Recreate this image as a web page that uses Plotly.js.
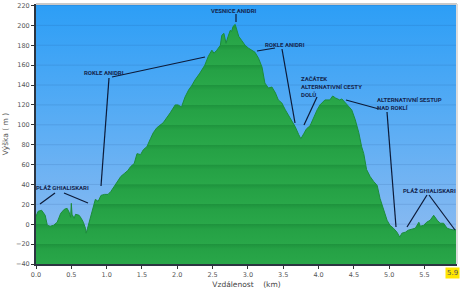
<!DOCTYPE html>
<html><head><meta charset="utf-8">
<script src="https://cdn.plot.ly/plotly-3.0.1.min.js"></script>
<style>html,body{margin:0;padding:0;background:#fff}#chart{width:460px;height:289px}</style>
</head><body><div id="chart"></div>
<script>
const distanceKm = [0.00,0.03,0.08,0.13,0.16,0.20,0.25,0.30,0.35,0.40,0.44,0.47,0.49,0.50,0.51,0.54,0.56,0.61,0.64,0.67,0.70,0.71,0.73,0.77,0.82,0.84,0.88,0.92,0.97,1.02,1.06,1.11,1.15,1.20,1.25,1.30,1.34,1.39,1.43,1.48,1.52,1.57,1.62,1.66,1.71,1.80,1.90,1.97,2.01,2.06,2.11,2.16,2.21,2.25,2.32,2.39,2.44,2.49,2.52,2.56,2.61,2.63,2.66,2.69,2.72,2.75,2.77,2.79,2.82,2.84,2.87,2.91,2.96,3.01,3.05,3.10,3.15,3.20,3.24,3.29,3.34,3.39,3.43,3.48,3.53,3.57,3.62,3.67,3.72,3.75,3.79,3.83,3.88,3.93,3.98,4.02,4.09,4.16,4.20,4.24,4.30,4.33,4.38,4.42,4.47,4.52,4.57,4.61,4.64,4.68,4.73,4.78,4.83,4.87,4.92,4.97,5.01,5.06,5.11,5.15,5.18,5.23,5.27,5.32,5.37,5.42,5.44,5.49,5.53,5.58,5.63,5.68,5.72,5.77,5.82,5.86,5.93,5.96];
const elevationM = [8,13,14,9,-1,-2,-1,2,11,15,16,12,7,21,10,6,10,9,6,2,-4,-9,-4,7,19,25,23,29,30,30,33,38,43,48,51,54,58,61,71,70,75,78,86,92,97,102,112,120,120,118,128,135,140,145,152,160,169,175,172,175,180,190,192,182,189,195,194,199,201,195,189,185,180,177,175,173,167,158,142,137,138,132,125,122,115,110,105,98,90,86,91,96,99,108,115,120,125,125,129,127,125,126,122,118,115,105,92,78,71,55,48,43,39,26,14,4,-1,-4,-8,-13,-9,-8,-6,-5,-4,2,-2,-1,2,4,9,4,1,1,-4,-5,-6,-5];

const yTickVals = [-40,-20,0,20,40,60,80,100,120,140,160,180,200,220];
const xTickVals = [0,0.5,1,1.5,2,2.5,3,3.5,4,4.5,5,5.5];
const xTickText = ['0.0','0.5','1.0','1.5','2.0','2.5','3.0','3.5','4.0','4.5','5.0','5.5'];
const totalLabel = '5.9';
const totalKm = 5.9;

const labelTexts = ['VESNICE ANIDRI','ROKLE ANIDRI','ROKLE ANIDRI','ZAČÁTEK<br>ALTERNATIVNÍ CESTY<br>DOLŮ','ALTERNATIVNÍ SESTUP<br>NAD ROKLÍ','PLÁŽ GHIALISKARI','PLÁŽ GHIALISKARI'];

// ---- layout geometry ----
const W=460,H=289,ML=36,MR=3,MT=4,MB=25;
const xMin=0,xMax=5.96,yMin=-40,yMax=221.5;
const PXK=(W-ML-MR)/(xMax-xMin), PYU=(H-MT-MB)/(yMax-yMin);
const kx=px=>xMin+(px-ML)/PXK;
const vy=py=>yMin+(H-MB-py)/PYU;

// label placement in pixels [cx, cy, anchor]
const labelPos = [[233.5,10,'center'],[103.5,72,'center'],[284.5,44.5,'center'],[299,86.7,'left'],[375,103.3,'left'],[62.7,187.7,'center'],[429.5,190.7,'center']];
const leaderPx = [[236,14,236,22],[112,77,205,57],[109,78,101,186],[257,51,275,48],[282,49,295,123],[317,97,304,125],[346,100,379,109],[387,112,396,227],[55,193,40,204],[64,193,88,203],[427,195,407,227],[429,195,455,230]];

// subtle green banding between gridlines
const cs=[];
const nb=(yMax-yMin);
for(let g=-40; g<220; g+=20){
  const a=(g-yMin)/nb, b=(g+20-yMin)/nb;
  const s=v=>Math.min(1,Math.max(0,v));
  cs.push([s(a+0.0005),'#29a749']);
  cs.push([s(a+(15/20)*(b-a)),'#25a145']);
  cs.push([s(b-0.0005),'#1e933d']);
}
cs.push([1,'#24a043']);
cs[0][0]=0;

const traces=[
  {x:[xMin,xMax],y:[yMin,yMin],mode:'lines',line:{width:0},hoverinfo:'skip',showlegend:false},
  {x:distanceKm,y:elevationM,mode:'lines',fill:'tonexty',
   line:{color:'#1c8c3a',width:1},
   fillgradient:{type:'vertical',colorscale:cs,start:yMin,stop:yMax},
   hoverinfo:'skip',showlegend:false}
];

const bgSvg='data:image/svg+xml;charset=utf-8,'+encodeURIComponent('<svg xmlns="http://www.w3.org/2000/svg" width="10" height="100" preserveAspectRatio="none"><defs><linearGradient id="g" x1="0" y1="0" x2="0" y2="1"><stop offset="0" stop-color="#2c9ef6"/><stop offset="0.5" stop-color="#5eaef4"/><stop offset="1" stop-color="#95bdf0"/></linearGradient></defs><rect width="10" height="100" fill="url(#g)"/></svg>');

const shapes=[];
yTickVals.forEach(v=>{ if(v>yMin && v<221) shapes.push({type:'line',xref:'paper',x0:0,x1:1,yref:'y',y0:v,y1:v,line:{color:'rgba(20,60,120,0.13)',width:1},layer:'below'}); });
leaderPx.forEach(p=>shapes.push({type:'line',xref:'x',yref:'y',x0:kx(p[0]),y0:vy(p[1]),x1:kx(p[2]),y1:vy(p[3]),line:{color:'#0c1a38',width:1.2},layer:'above'}));
shapes.push({type:'line',xref:'paper',yref:'paper',x0:0,x1:1,y0:1,y1:1,line:{color:'#c9c9c9',width:2},layer:'above'});
shapes.push({type:'line',xref:'paper',yref:'paper',x0:1,x1:1,y0:0,y1:1,line:{color:'#dcdcdc',width:2},layer:'above'});

const annFont={family:'Liberation Sans Narrow, Roboto, Arial',size:6,color:'#14264f'};
const annotations=labelTexts.map((t,i)=>({
  text:'<b>'+t+'</b>',xref:'x',yref:'y',x:kx(labelPos[i][0]),y:vy(labelPos[i][1]),
  xanchor:labelPos[i][2],yanchor:'middle',align:'left',showarrow:false,font:annFont
}));
annotations.push({text:totalLabel,xref:'x',yref:'paper',x:totalKm,y:0,yanchor:'top',yshift:-3,showarrow:false,
  bgcolor:'#ffe600',borderpad:1,font:{family:'DejaVu Sans',size:7,color:'#555'}});

const tickFont={family:'DejaVu Sans',size:6.5,color:'#555'};
const layout={
  width:W,height:H,margin:{l:ML,r:MR,t:MT,b:MB,pad:0},
  paper_bgcolor:'#ffffff',plot_bgcolor:'rgba(0,0,0,0)',
  images:[{source:bgSvg,xref:'paper',yref:'paper',x:0,y:1,sizex:1,sizey:1,sizing:'stretch',xanchor:'left',yanchor:'top',layer:'below'}],
  xaxis:{range:[xMin,xMax],tickvals:xTickVals,ticktext:xTickText,ticks:'outside',ticklen:3,tickcolor:'#333',
    showline:true,linecolor:'#2b3440',linewidth:2,showgrid:false,zeroline:false,tickfont:tickFont,
    title:{text:'Vzdálenost&nbsp;&nbsp;&nbsp;&nbsp;(km)',font:{family:'DejaVu Sans',size:7.5,color:'#444'},standoff:4}},
  yaxis:{range:[yMin,yMax],tickvals:yTickVals,ticks:'outside',ticklen:3,tickcolor:'#333',
    showline:true,linecolor:'#2b3440',linewidth:2,showgrid:false,zeroline:false,tickfont:tickFont,
    title:{text:'Výška ( m )',font:{family:'DejaVu Sans',size:7.5,color:'#555'},standoff:6}},
  shapes:shapes,annotations:annotations,showlegend:false
};
Plotly.newPlot('chart',traces,layout,{staticPlot:true,displayModeBar:false});
</script></body></html>
